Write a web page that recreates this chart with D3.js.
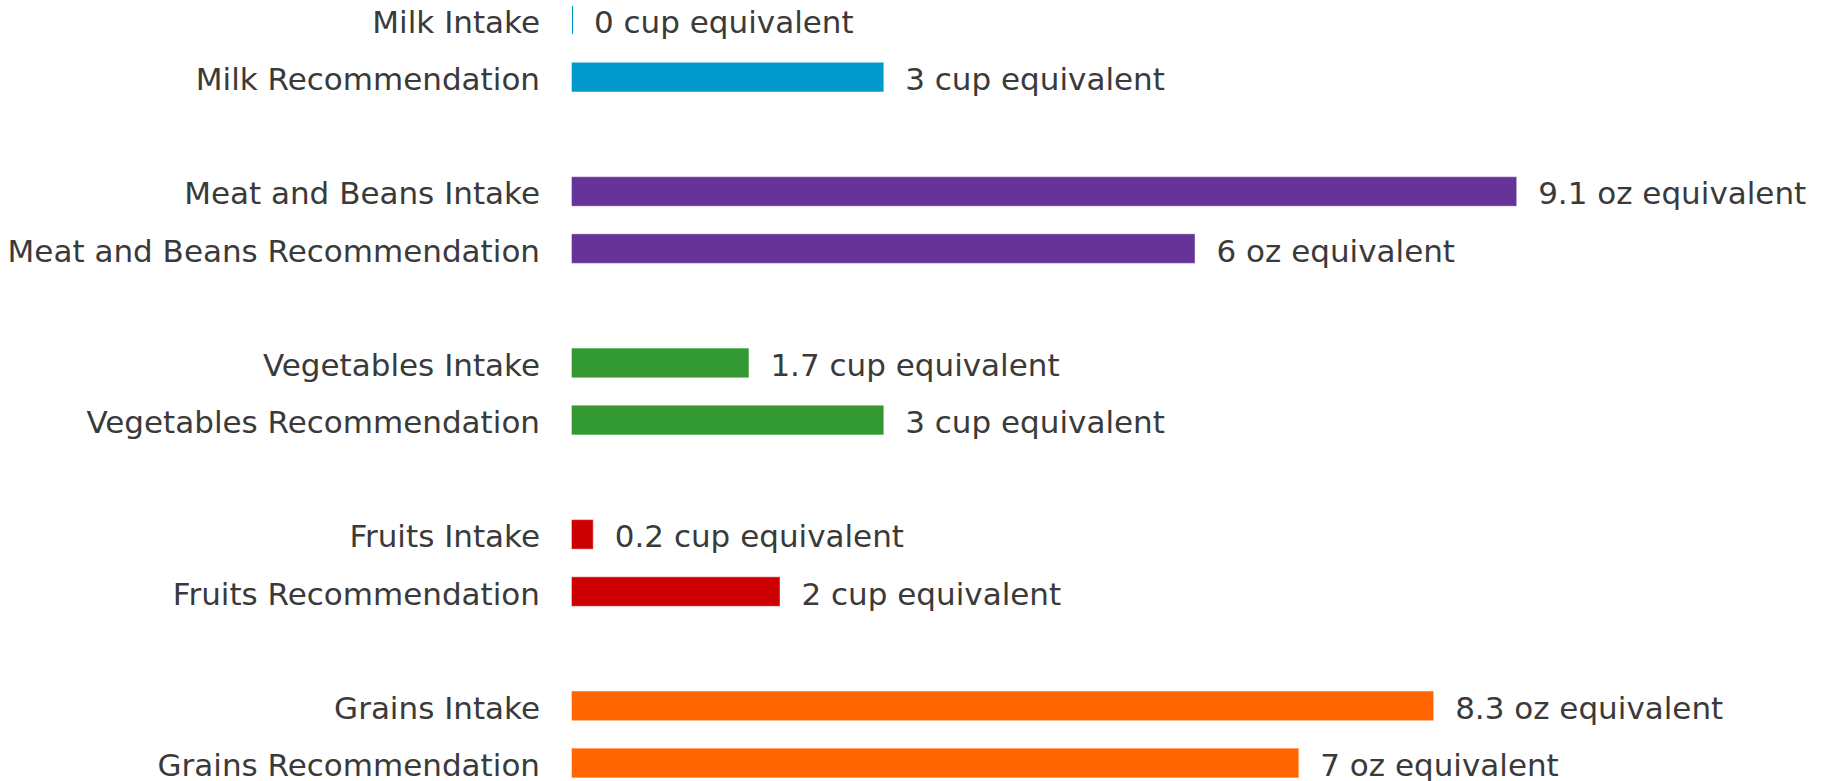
<!DOCTYPE html>
<html>
<head>
<meta charset="utf-8">
<script src="https://cdn.jsdelivr.net/npm/d3@7"></script>
<style>
  body { margin: 0; background: #fff; }
  svg text { font-family: "DejaVu Sans", Verdana, sans-serif; font-size: 31px; fill: #3a3a3a; }
</style>
</head>
<body>
<svg id="chart" width="1822" height="781"></svg>
<script>
// food groups, top to bottom
var groups = ["Milk", "Meat and Beans", "Vegetables", "Fruits", "Grains"];
var kinds = ["Intake", "Recommendation"];
var intake = [0, 9.1, 1.7, 0.2, 8.3];
var recommended = [3, 6, 3, 2, 7];
var units = ["cup", "oz", "cup", "cup", "oz"];
var colors = ["#0099cc", "#663399", "#339933", "#cc0000", "#ff6600"];

var rows = [];
groups.forEach(function(g, i) {
  rows.push({ group: g, kind: "Intake", value: intake[i], unit: units[i], color: colors[i] });
  rows.push({ group: g, kind: "Recommendation", value: recommended[i], unit: units[i], color: colors[i] });
});

var svg = d3.select("#chart");
var left = 572;

var x = d3.scaleLinear().domain([0, 10]).range([left, left + 1037.5]);

var y0 = d3.scaleBand().domain(groups).range([-8.6, 791.6]).paddingInner(1 / 3).paddingOuter(0);
var y1 = d3.scaleBand().domain(kinds).range([0, y0.bandwidth()]).paddingInner(0.5).paddingOuter(0.25);

var row = svg.selectAll("g.row")
  .data(rows)
  .enter().append("g")
  .attr("class", "row")
  .attr("transform", function(d) { return "translate(0," + (y0(d.group) + y1(d.kind)) + ")"; });

// zero values still get a 1px sliver, like the original
row.append("rect")
  .attr("x", x(0))
  .attr("y", 0)
  .attr("width", function(d) { return Math.max(x(d.value) - x(0), 1); })
  .attr("height", y1.bandwidth())
  .attr("fill", function(d) { return d.color; })
  .attr("stroke", function(d) { return d.color; })
  .attr("stroke-opacity", 0.6)
  .attr("stroke-width", function(d) { return d.value ? 1 : 0; });

row.append("text")
  .attr("x", left - 32)
  .attr("y", y1.bandwidth() / 2)
  .attr("dy", "0.42em")
  .attr("text-anchor", "end")
  .text(function(d) { return d.group + " " + d.kind; });

row.append("text")
  .attr("x", function(d) { return x(d.value) + 22; })
  .attr("y", y1.bandwidth() / 2)
  .attr("dy", "0.42em")
  .text(function(d) { return d.value + " " + d.unit + " equivalent"; });
</script>
</body>
</html>
